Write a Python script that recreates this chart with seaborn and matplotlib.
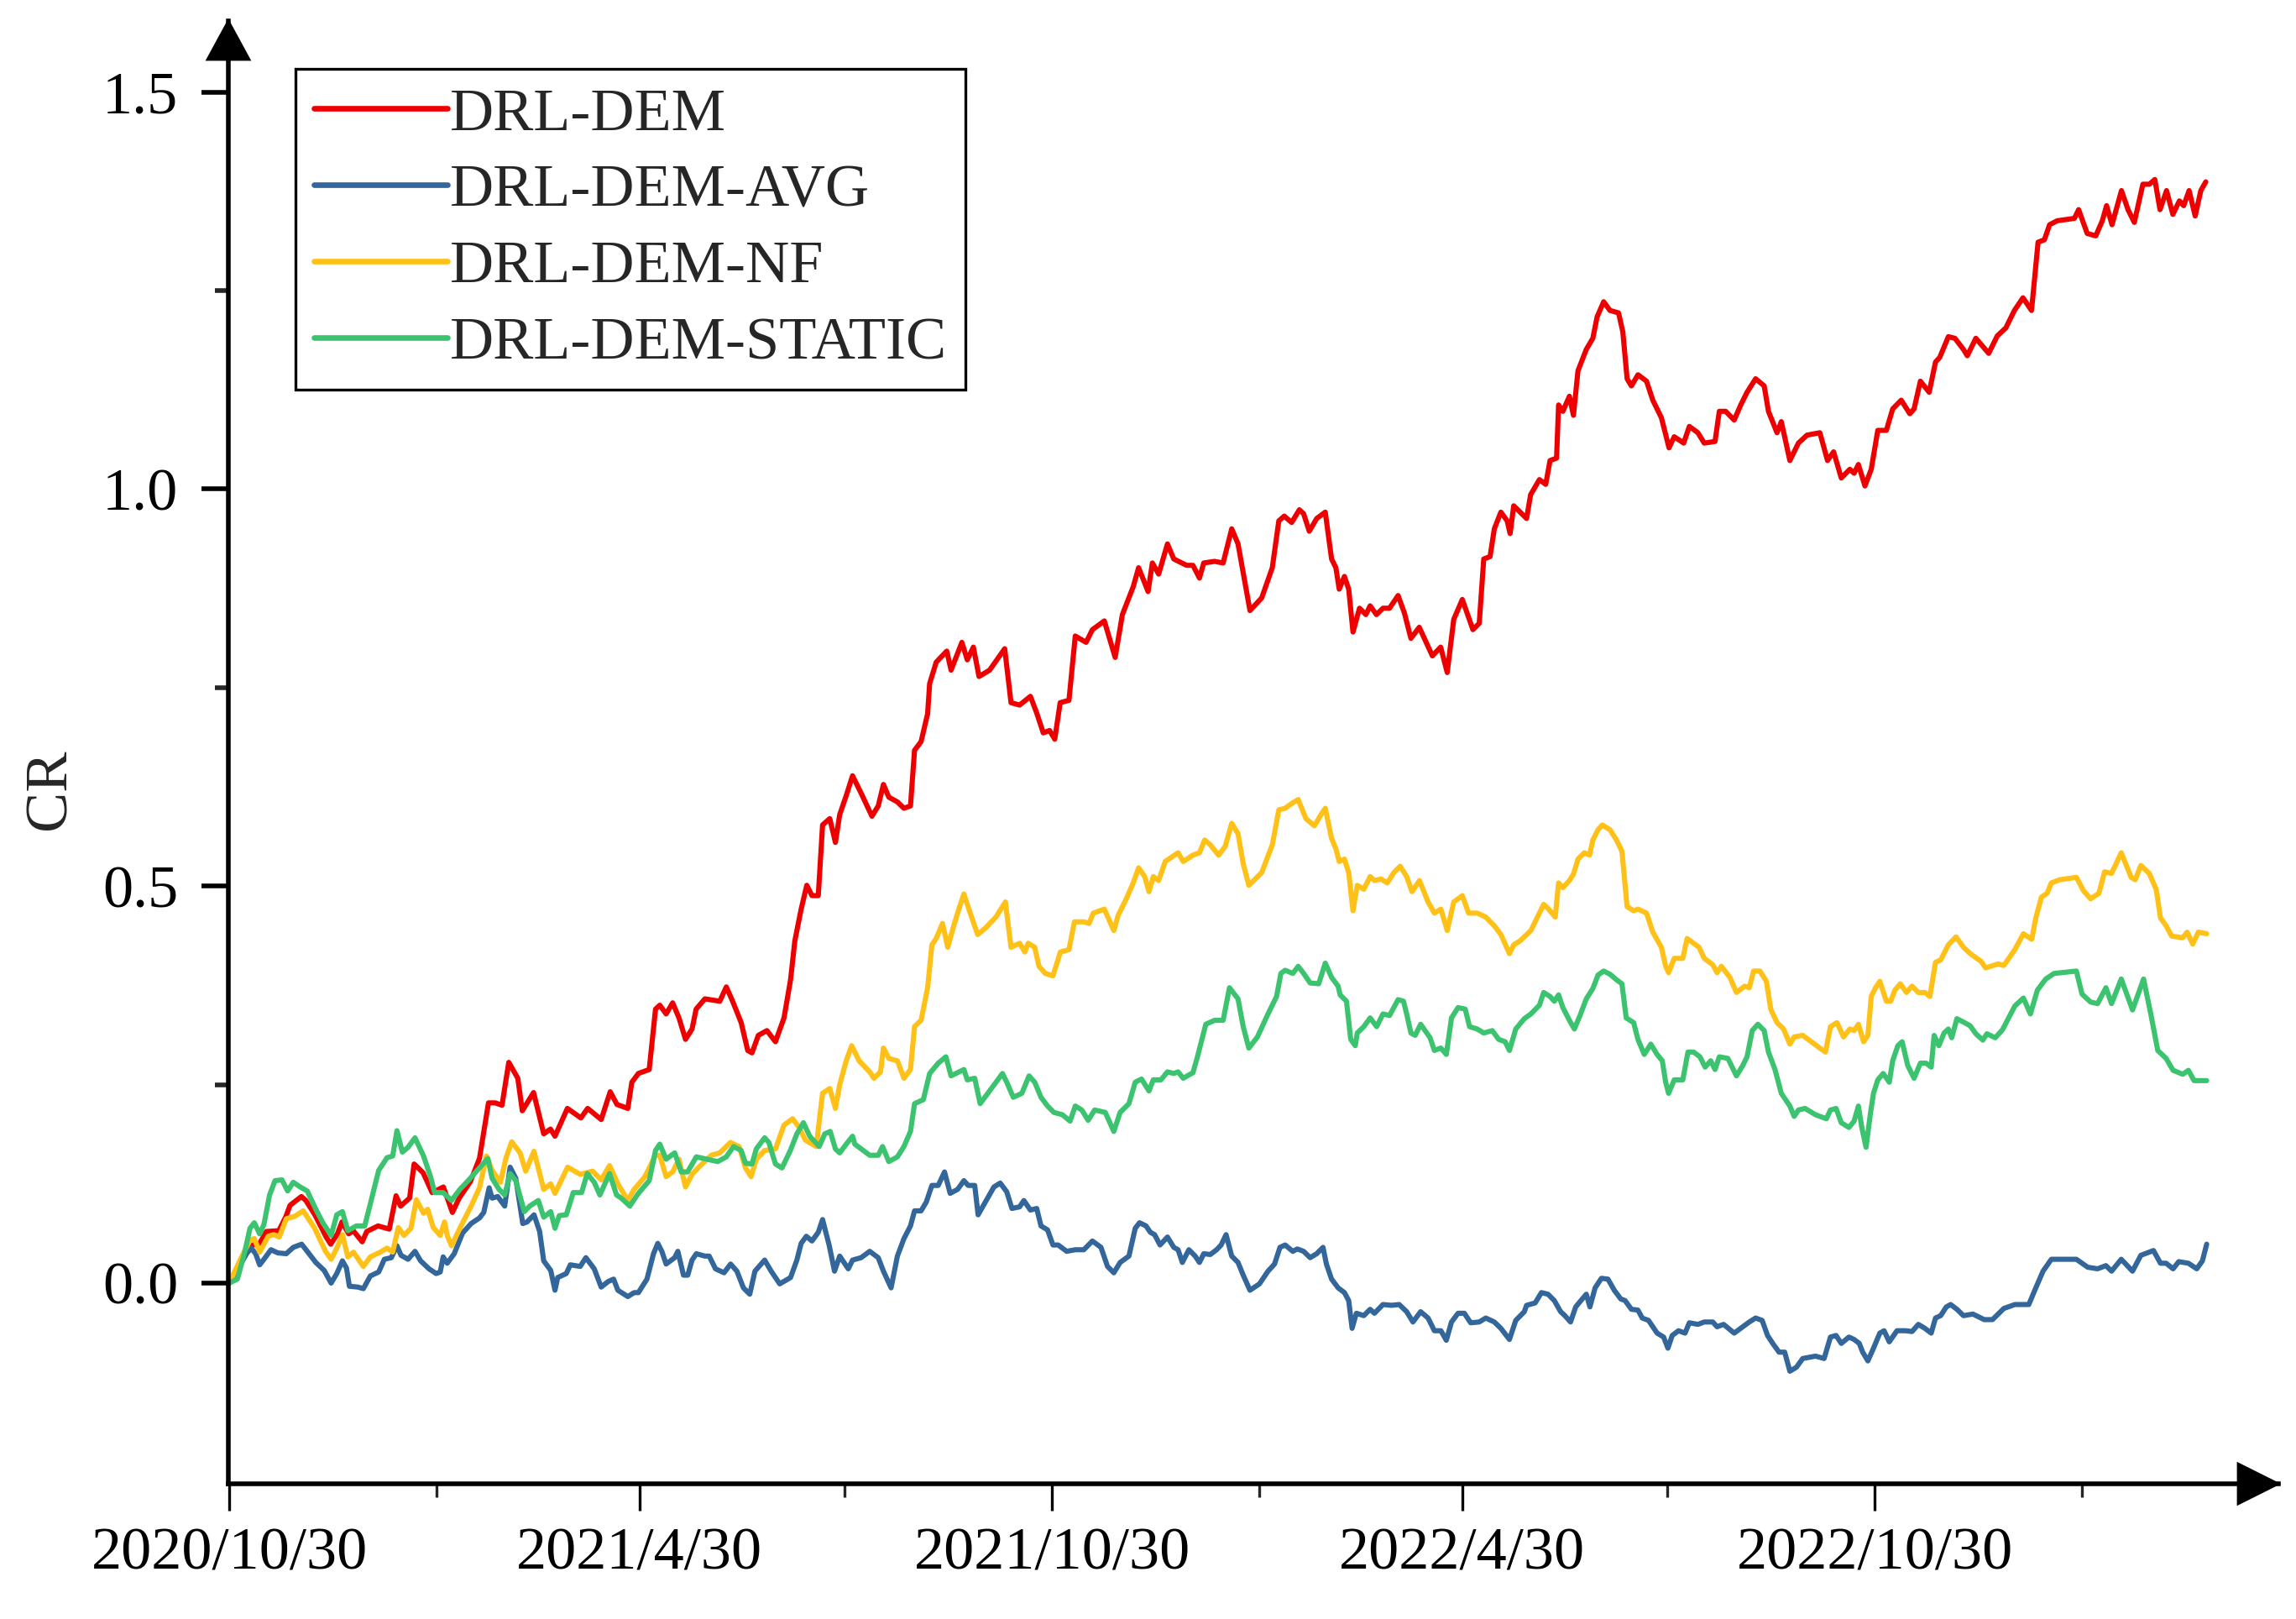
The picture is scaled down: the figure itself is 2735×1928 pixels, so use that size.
import matplotlib
matplotlib.use('Agg')
import matplotlib.pyplot as plt
import matplotlib.dates as mdates
from matplotlib.patches import Polygon
import pandas as pd
import seaborn as sns

# days are counted from the first trading day, 2020/10/30
START = pd.Timestamp('2020-10-30')

series_names = ['DRL-DEM', 'DRL-DEM-AVG', 'DRL-DEM-NF', 'DRL-DEM-STATIC']
series_colors = ['#EE0000', '#33669A', '#FFC117', '#3CC370']

red_days = [0, 5.5, 9, 13.5, 16.5, 22, 25, 27, 32, 34, 38, 43, 45, 48, 50, 53, 55, 59, 61, 66, 71, 74, 76, 80, 82, 86, 90, 95, 99, 102,
            107, 111, 115, 118, 121, 124, 128, 130, 135, 139.5, 142.5, 144.5, 150, 156, 159, 165, 169, 172, 176.8, 178.6, 181.5,
            186.3, 189.1, 191, 193.8, 196.7, 199.5, 202.4, 205.3, 207.1, 211, 217.6, 220.5, 223.3, 227.1, 230, 231.9, 234.7, 238.5,
            242.3, 246.1, 249, 250.9, 253.7, 256.2, 258.5, 261.3, 263.2, 266.4, 268.9, 270.8, 273.7, 276.5, 280.3, 285.1, 287.9,
            290.2, 292.6, 296.4, 299.3, 302.2, 304, 306.9, 309.8, 310.7, 313.6, 318.3, 320.2, 325, 327.4, 330.1, 332.6, 337.3, 344,
            346.8, 350.6, 355.4, 358.2, 361.1, 363.9, 366.2, 368.6, 372.5, 375.3, 380.1, 382.9, 388.2, 393, 396.2, 401, 403.4,
            407.6, 409.5, 412.3, 416.2, 419, 424.7, 427.5, 430.4, 432.3, 437.1, 440.9, 444.7, 447.5, 450.4, 452.8, 458, 462.7,
            465.6, 468, 471.3, 474.7, 476.6, 479.1, 482.4, 486.2, 489, 490.9, 492.4, 494.7, 496.6, 498.5, 501.4, 504.2, 506.1,
            508.9, 511.8, 514.7, 518.5, 521.3, 524.2, 527.9, 533.7, 537.4, 540.3, 543.2, 547, 551.7, 554.5, 556.5, 559.3, 561.2,
            564.1, 566.9, 568.2, 569.8, 575.5, 577.3, 581.2, 584, 585.9, 588.8, 589.7, 591.6, 594.5, 596.3, 598.3, 602, 604.9,
            606.8, 609.7, 612.5, 616.3, 618.2, 620.1, 622, 624.9, 628.7, 631.5, 635.3, 638.7, 641, 645.2, 647.7, 651.5, 654.3,
            659.1, 661, 663.8, 667.6, 670.5, 673.3, 677.1, 680.9, 682.8, 686.6, 688.5, 692.3, 696.1, 699.9, 705.6, 709, 711.7,
            715.1, 718.9, 720.8, 722.7, 725.6, 728.4, 731.3, 735.1, 737.9, 741.7, 745.5, 747.4, 750.2, 754.1, 756.9, 758.8, 762.6,
            765.5, 769.3, 771, 774.8, 780.5, 784.3, 788.1, 791.9, 795.7, 799.5, 802.4, 805.2, 807.5, 810.9, 818.5, 820.4, 824.2,
            828, 830.9, 832.8, 835.2, 839.4, 842.3, 845.1, 848.9, 851.8, 854.2, 856.5, 859.4, 862.2, 865.1, 867, 869.4, 872.1,
            874.6, 876.8]
red_cr = [0, 0.03, 0.047, 0.05, 0.065, 0.066, 0.083, 0.098, 0.109, 0.104, 0.086, 0.058, 0.049, 0.062, 0.077, 0.062, 0.066, 0.052,
          0.065, 0.072, 0.068, 0.11, 0.097, 0.107, 0.15, 0.139, 0.114, 0.121, 0.089, 0.107, 0.128, 0.157, 0.227, 0.227, 0.224,
          0.278, 0.258, 0.217, 0.24, 0.188, 0.194, 0.185, 0.22, 0.208, 0.22, 0.206, 0.241, 0.225, 0.22, 0.253, 0.264, 0.269, 0.345,
          0.35, 0.339, 0.353, 0.334, 0.307, 0.32, 0.345, 0.358, 0.355, 0.373, 0.355, 0.328, 0.293, 0.29, 0.312, 0.318, 0.304, 0.334,
          0.382, 0.431, 0.471, 0.501, 0.488, 0.488, 0.577, 0.585, 0.555, 0.59, 0.614, 0.639, 0.617, 0.588, 0.601, 0.628, 0.612,
          0.606, 0.598, 0.601, 0.671, 0.682, 0.717, 0.755, 0.782, 0.796, 0.772, 0.807, 0.785, 0.801, 0.764, 0.772, 0.799, 0.731,
          0.728, 0.739, 0.718, 0.693, 0.696, 0.685, 0.731, 0.734, 0.815, 0.807, 0.823, 0.834, 0.788, 0.842, 0.877, 0.901, 0.871,
          0.907, 0.893, 0.931, 0.912, 0.904, 0.904, 0.888, 0.907, 0.909, 0.907, 0.95, 0.931, 0.885, 0.847, 0.863, 0.901, 0.96,
          0.966, 0.958, 0.974, 0.969, 0.947, 0.963, 0.971, 0.912, 0.901, 0.874, 0.89, 0.874, 0.82, 0.85, 0.842, 0.853, 0.842, 0.85,
          0.85, 0.866, 0.844, 0.812, 0.826, 0.79, 0.801, 0.769, 0.836, 0.861, 0.823, 0.831, 0.912, 0.915, 0.95, 0.971, 0.96, 0.944,
          0.979, 0.963, 0.993, 1.012, 1.006, 1.036, 1.039, 1.106, 1.098, 1.117, 1.093, 1.149, 1.176, 1.19, 1.217, 1.236, 1.225,
          1.222, 1.198, 1.139, 1.13, 1.144, 1.136, 1.112, 1.09, 1.052, 1.066, 1.058, 1.079, 1.071, 1.058, 1.06, 1.098, 1.098,
          1.087, 1.106, 1.122, 1.139, 1.13, 1.098, 1.071, 1.085, 1.036, 1.058, 1.068, 1.071, 1.036, 1.047, 1.014, 1.025, 1.02,
          1.031, 1.004, 1.025, 1.074, 1.074, 1.101, 1.112, 1.095, 1.101, 1.136, 1.122, 1.16, 1.166, 1.192, 1.19, 1.176, 1.168,
          1.19, 1.171, 1.193, 1.203, 1.225, 1.241, 1.225, 1.311, 1.314, 1.333, 1.338, 1.341, 1.352, 1.322, 1.319, 1.338, 1.357,
          1.333, 1.376, 1.352, 1.336, 1.384, 1.384, 1.39, 1.352, 1.376, 1.346, 1.363, 1.357, 1.376, 1.344, 1.376, 1.387]

blue_days = [0, 5.5, 7.9, 9.8, 11.7, 13.5, 15.4, 18.5, 21.6, 25.3, 28.4, 32.1, 34.6, 38.4, 42.1, 45.2, 47.7, 50.2, 52, 53.3, 57,
             59.5, 62.6, 66.3, 68.8, 71.9, 74.4, 76.2, 79.3, 82.4, 84.9, 88.6, 91.8, 93.6, 94.9, 96.7, 99.8, 103.5, 107.3, 111,
             112.9, 115.3, 116.6, 119.1, 122.2, 124.6, 127.1, 130.2, 132.1, 135.2, 137.7, 139.5, 142.6, 144.5, 145.7, 149.5, 151.3,
             155.7, 158.2, 161.9, 165, 168.1, 170.5, 172.4, 176.8, 179.6, 181.5, 185.3, 188.2, 190.1, 191.9, 193.8, 197.6, 199,
             201.5, 203.4, 205.3, 207.2, 211, 212.9, 215.7, 219.5, 222.4, 225.2, 228.1, 230.9, 233.2, 237.5, 240.4, 244.2, 249,
             251.8, 253.7, 256, 258.5, 261.3, 263.2, 266.1, 268.5, 270.8, 274.6, 276.5, 280.3, 284.1, 287.9, 290.2, 293.6, 296.4,
             299.3, 302.2, 304, 306.9, 309.2, 311.7, 314.5, 317.3, 319.8, 323.1, 325.9, 327.8, 330.7, 332.2, 335.4, 339.2, 342,
             344.9, 347.2, 350.6, 352.5, 355.4, 358.2, 360.1, 363, 365.4, 367.7, 371.5, 375.3, 379.1, 382.9, 386.7, 389.6, 392.4,
             395.2, 399.1, 401.9, 403.8, 406.7, 408.6, 410.5, 412.9, 416.2, 419, 420.9, 422.8, 425.7, 428.5, 430.4, 432.3, 435.2,
             438, 440, 442.2, 444.7, 447.5, 449.8, 452.8, 457, 460.8, 463.7, 466.1, 468.4, 471.8, 473.8, 476.6, 479.5, 482.4,
             485.2, 486.7, 489, 491.9, 494.7, 496.6, 498.1, 500, 503.3, 506.1, 508, 511.8, 515.6, 519, 522.3, 525.1, 528.5, 531.8,
             534.6, 537.5, 539.9, 542.2, 545.1, 547.9, 550.7, 554.5, 557.4, 561.2, 564.1, 567.9, 570.7, 574.5, 575.5, 579.3, 582.1,
             585, 587.8, 590.6, 592.5, 595, 597.3, 600.2, 602, 603.6, 605.9, 608.7, 611.6, 614.4, 617.3, 619.2, 622, 624.9, 626.8,
             629.6, 633.4, 636.3, 638.2, 640.1, 642.9, 645.8, 647.7, 651.5, 654.3, 658.1, 660, 662.9, 667.6, 671.4, 674.3, 677.1,
             680, 682.4, 684.7, 687.5, 690, 692.3, 695.2, 698, 703.7, 707.5, 710.3, 712.8, 715.1, 718.5, 720.8, 723.1, 724.6,
             726.9, 729.4, 732.2, 734.1, 736.4, 739.8, 743.6, 746.5, 749.3, 752.2, 755, 756.9, 759.2, 761.7, 763.6, 766.4, 769.3,
             773.5, 778.5, 782.2, 787.2, 792.1, 798.3, 800.8, 804.6, 808.3, 819.4, 824.4, 828.8, 832.5, 835, 839.3, 844.3, 848,
             853.6, 856.7, 859.2, 862.3, 864.8, 869.1, 872.8, 875.3, 877.2]
blue_cr = [0, 0.026, 0.038, 0.044, 0.037, 0.023, 0.03, 0.042, 0.038, 0.037, 0.045, 0.049, 0.04, 0.026, 0.016, 0, 0.012, 0.028,
           0.019, -0.004, -0.005, -0.007, 0.009, 0.014, 0.03, 0.032, 0.047, 0.035, 0.03, 0.04, 0.028, 0.018, 0.012, 0.014, 0.033,
           0.025, 0.037, 0.063, 0.075, 0.082, 0.089, 0.12, 0.107, 0.109, 0.097, 0.146, 0.132, 0.075, 0.077, 0.086, 0.065, 0.028,
           0.016, -0.009, 0.007, 0.012, 0.023, 0.021, 0.032, 0.018, -0.005, 0.002, 0.005, -0.009, -0.017, -0.012, -0.012, 0.005,
           0.037, 0.05, 0.04, 0.024, 0.032, 0.04, 0.01, 0.01, 0.029, 0.037, 0.034, 0.034, 0.018, 0.013, 0.024, 0.015, -0.006,
           -0.014, 0.015, 0.029, 0.015, -0.001, 0.007, 0.029, 0.05, 0.059, 0.053, 0.064, 0.08, 0.048, 0.015, 0.034, 0.018, 0.029,
           0.032, 0.04, 0.032, 0.015, -0.006, 0.034, 0.056, 0.072, 0.091, 0.091, 0.102, 0.123, 0.123, 0.14, 0.113, 0.118, 0.129,
           0.123, 0.123, 0.086, 0.102, 0.121, 0.126, 0.115, 0.094, 0.096, 0.104, 0.092, 0.094, 0.072, 0.067, 0.048, 0.048, 0.04,
           0.042, 0.042, 0.053, 0.045, 0.021, 0.013, 0.026, 0.034, 0.069, 0.076, 0.072, 0.064, 0.061, 0.048, 0.058, 0.045, 0.042,
           0.026, 0.042, 0.034, 0.026, 0.037, 0.036, 0.042, 0.048, 0.061, 0.034, 0.026, 0.01, -0.009, -0.001, 0.015, 0.024, 0.045,
           0.048, 0.04, 0.043, 0.04, 0.032, 0.037, 0.045, 0.024, 0.005, -0.006, -0.012, -0.022, -0.057, -0.038, -0.041, -0.033,
           -0.038, -0.027, -0.028, -0.027, -0.036, -0.049, -0.036, -0.044, -0.06, -0.06, -0.072, -0.049, -0.038, -0.038, -0.05,
           -0.049, -0.044, -0.049, -0.057, -0.071, -0.047, -0.036, -0.028, -0.025, -0.012, -0.014, -0.022, -0.036, -0.041, -0.049,
           -0.03, -0.02, -0.014, -0.03, -0.006, 0.006, 0.005, -0.009, -0.02, -0.022, -0.033, -0.034, -0.044, -0.047, -0.063,
           -0.068, -0.082, -0.066, -0.06, -0.063, -0.05, -0.052, -0.049, -0.049, -0.055, -0.052, -0.063, -0.055, -0.049, -0.044,
           -0.047, -0.066, -0.076, -0.087, -0.087, -0.111, -0.106, -0.095, -0.092, -0.095, -0.068, -0.066, -0.076, -0.068, -0.071,
           -0.076, -0.087, -0.098, -0.082, -0.063, -0.06, -0.074, -0.06, -0.06, -0.061, -0.052, -0.057, -0.063, -0.044, -0.041,
           -0.03, -0.027, -0.033, -0.041, -0.039, -0.046, -0.046, -0.032, -0.027, -0.027, -0.01, 0.015, 0.03, 0.03, 0.02, 0.018,
           0.022, 0.015, 0.03, 0.015, 0.035, 0.041, 0.025, 0.025, 0.018, 0.027, 0.025, 0.018, 0.028, 0.049]

yellow_days = [0, 5.5, 9.2, 11.1, 13.5, 17.3, 19.8, 22.2, 25.3, 29, 32.8, 37.7, 42.7, 45.2, 47.7, 50.2, 52.6, 55.1, 59.5, 62.6, 67,
               70, 72.5, 75, 77.5, 80.6, 83, 86.2, 88, 90.5, 93.6, 95.5, 96.7, 98.6, 102.3, 107.3, 111, 114.1, 116.6, 120.3,
               122.8, 125.3, 129, 131.5, 135.2, 139.5, 142.6, 144.5, 150.1, 155.7, 161.2, 165, 168.7, 172.4, 176.8, 179.6, 184.4,
               189.1, 191, 193.8, 196.7, 199.5, 202.4, 205.3, 209, 213.8, 217.6, 222.3, 226.2, 229, 231.5, 233.8, 237.5, 242.3,
               246.1, 249.9, 252.8, 255.6, 260.4, 263.2, 266.4, 268.9, 270.8, 273.7, 276.1, 279.4, 284.1, 286, 288.9, 290.2,
               292.6, 296.4, 299.3, 302.2, 304, 306.9, 309.8, 311.7, 313.6, 316.4, 318.7, 321.7, 324, 325.9, 328.7, 332, 335.4,
               340.1, 344.3, 346.8, 350.6, 352.9, 354.4, 357.3, 359.2, 362, 365.4, 368.7, 372.5, 374.9, 379.1, 381.4, 383.3,
               388.2, 392.4, 394.3, 398.1, 401, 403.4, 406.1, 408, 409.9, 412.3, 415.2, 420.9, 423.2, 427.5, 430.4, 432.7, 435.2,
               438.9, 441.8, 444.7, 447.5, 449.8, 452.3, 458, 462.7, 465.6, 468.4, 471.3, 474.2, 477.6, 481.4, 484.3, 486.2, 489,
               490.9, 492.4, 494.7, 496.6, 498.5, 500.4, 503.3, 506.1, 508, 510.9, 513.7, 516.6, 519.4, 522.3, 524.7, 528, 531.8,
               534.6, 537.5, 540.3, 543.2, 547, 549.8, 553.6, 557.4, 561.2, 564.1, 567.9, 569.8, 572.6, 577.4, 581.2, 583.1,
               585.3, 588.2, 589.7, 591.6, 594.5, 596.3, 598.3, 601.1, 603.4, 604.9, 607.2, 609.1, 612.5, 615.4, 617.8, 620.1,
               623, 624.9, 628.7, 631.5, 635.3, 637.2, 638.5, 641, 644.8, 646.7, 649.6, 652, 654.3, 658.1, 660, 661.9, 665.7,
               668.6, 672.3, 674.3, 676.2, 679, 681.9, 683.8, 686.6, 689.5, 692.3, 694.2, 698, 701.8, 705.6, 708.1, 710.3, 713.2,
               716.1, 718.9, 720.8, 722.7, 725, 726.9, 728.4, 730.3, 732.2, 735.1, 737, 738.9, 741.3, 744, 746.5, 749.3, 752.2,
               754.4, 756.9, 759.2, 762.6, 766, 769.3, 772.3, 777.2, 779.1, 784.7, 787.2, 792.1, 795.9, 799.6, 801.4, 803.9,
               806.4, 808.3, 812, 819.4, 822.6, 825.7, 829.4, 831.9, 835, 839.3, 843.7, 845.5, 848, 851.7, 854.8, 856.7, 859.2,
               861.7, 866.6, 868.5, 871, 873.5, 877.2]
yellow_cr = [0, 0.033, 0.054, 0.056, 0.039, 0.059, 0.061, 0.058, 0.081, 0.084, 0.091, 0.07, 0.04, 0.03, 0.044, 0.061, 0.033, 0.039,
             0.021, 0.033, 0.039, 0.044, 0.039, 0.07, 0.06, 0.069, 0.105, 0.088, 0.093, 0.07, 0.06, 0.077, 0.06, 0.047, 0.069,
             0.097, 0.12, 0.16, 0.142, 0.127, 0.158, 0.178, 0.164, 0.141, 0.166, 0.118, 0.125, 0.113, 0.146, 0.137, 0.141, 0.13,
             0.148, 0.125, 0.104, 0.118, 0.134, 0.161, 0.161, 0.134, 0.14, 0.156, 0.121, 0.137, 0.148, 0.161, 0.164, 0.177, 0.172,
             0.145, 0.134, 0.156, 0.167, 0.169, 0.199, 0.207, 0.196, 0.18, 0.172, 0.239, 0.245, 0.22, 0.25, 0.28, 0.299, 0.28,
             0.266, 0.258, 0.266, 0.296, 0.283, 0.28, 0.258, 0.269, 0.323, 0.331, 0.372, 0.426, 0.434, 0.453, 0.423, 0.453, 0.474,
             0.49, 0.466, 0.439, 0.447, 0.461, 0.48, 0.423, 0.428, 0.417, 0.428, 0.423, 0.399, 0.39, 0.387, 0.417, 0.42, 0.455,
             0.455, 0.453, 0.466, 0.471, 0.444, 0.463, 0.485, 0.504, 0.523, 0.512, 0.493, 0.512, 0.507, 0.531, 0.542, 0.531, 0.539,
             0.542, 0.558, 0.552, 0.539, 0.55, 0.579, 0.566, 0.528, 0.501, 0.517, 0.552, 0.596, 0.598, 0.604, 0.609, 0.585, 0.576,
             0.59, 0.598, 0.56, 0.547, 0.531, 0.534, 0.517, 0.469, 0.501, 0.496, 0.512, 0.507, 0.509, 0.504, 0.517, 0.525, 0.512,
             0.493, 0.507, 0.48, 0.466, 0.471, 0.444, 0.48, 0.488, 0.466, 0.466, 0.461, 0.45, 0.439, 0.415, 0.426, 0.431, 0.444,
             0.466, 0.477, 0.471, 0.461, 0.504, 0.498, 0.507, 0.515, 0.534, 0.542, 0.539, 0.558, 0.571, 0.577, 0.571, 0.558, 0.544,
             0.474, 0.469, 0.471, 0.466, 0.442, 0.423, 0.399, 0.391, 0.409, 0.409, 0.434, 0.428, 0.423, 0.409, 0.401, 0.391, 0.399,
             0.385, 0.366, 0.374, 0.372, 0.393, 0.393, 0.38, 0.345, 0.328, 0.32, 0.301, 0.31, 0.312, 0.304, 0.296, 0.291, 0.323,
             0.328, 0.31, 0.32, 0.318, 0.326, 0.304, 0.312, 0.361, 0.372, 0.38, 0.355, 0.355, 0.369, 0.377, 0.366, 0.374, 0.366,
             0.366, 0.361, 0.404, 0.407, 0.426, 0.436, 0.423, 0.415, 0.405, 0.397, 0.402, 0.4, 0.42, 0.44, 0.433, 0.46, 0.486,
             0.491, 0.504, 0.508, 0.511, 0.494, 0.484, 0.491, 0.518, 0.516, 0.542, 0.511, 0.508, 0.526, 0.516, 0.496, 0.46, 0.45,
             0.437, 0.435, 0.442, 0.427, 0.442, 0.44]

green_days = [0, 3.6, 6.7, 9.2, 11.1, 13.5, 15.4, 17.9, 20.3, 23.4, 25.9, 28.4, 31.5, 34.6, 38.4, 41.5, 45.2, 47.7, 50.2, 52.6,
              56.4, 60.1, 62.6, 66.3, 70, 72.5, 74.4, 76.8, 79.3, 82.4, 86.2, 89.3, 91.1, 94.9, 98.6, 102.3, 106, 109.7, 114.7,
              116.6, 119.7, 122.2, 124.6, 127.1, 130.9, 133.3, 137.1, 139.5, 142.6, 144.5, 146.4, 149.5, 152.6, 156.3, 158.8,
              161.9, 164.4, 168.7, 171.8, 173.9, 177.7, 181.5, 186.3, 189.1, 191, 193.8, 197.6, 200.5, 203.3, 207.2, 211.9, 216.7,
              220.5, 223.7, 227.1, 229, 231.9, 233.8, 237.5, 239.4, 242.3, 245.2, 248.9, 251.8, 254.7, 257.5, 261.7, 264.2, 266.6,
              268.9, 270.8, 273.7, 276.5, 277.5, 280.3, 284.1, 287.9, 289.8, 292.6, 296.4, 299.3, 302.2, 304, 307.9, 310.7, 314.5,
              317.9, 320.2, 325.9, 327.4, 330.7, 333.1, 337.3, 343, 344.9, 347.8, 351.6, 354.8, 357.3, 360.1, 363, 365.8, 369.6,
              373, 375.3, 378.2, 381, 383.9, 388.6, 392.4, 395.2, 399.1, 401.9, 404.7, 408, 409.9, 413.3, 416.2, 419, 420.9, 423.2,
              427.5, 429.5, 433.2, 437.1, 440.9, 443.7, 447.5, 449.8, 452.3, 456.1, 460.8, 464.6, 466.5, 468.4, 471.8, 474.2,
              476.6, 479.5, 483.3, 486.2, 489, 491.9, 492.8, 495.6, 497.5, 499.5, 500.4, 503.3, 506.1, 509, 511.8, 514.7, 518.5,
              520.9, 522.3, 524.2, 526.1, 528.5, 532.7, 534.6, 537.5, 539.9, 542.2, 545.1, 548.3, 550.2, 553.6, 556.5, 560.3,
              563.1, 566, 567.9, 570.7, 574.5, 577.4, 581.2, 583.1, 585.9, 587.8, 589.7, 591.6, 594.5, 596.7, 599.2, 602, 604.9,
              607.2, 609.7, 612.5, 615.4, 617.8, 619.7, 623, 624.9, 627.7, 630.6, 633.4, 635.7, 637.2, 638.5, 641, 644.8, 647.1,
              649.6, 652.4, 654.7, 657.2, 659.1, 661, 664.8, 668.6, 671.4, 673.3, 675.6, 678.1, 680.9, 682.8, 685.7, 688.5, 692.3,
              694.2, 696.1, 699, 703.7, 708.5, 710.3, 712.8, 715.1, 718.5, 720.8, 722.7, 724.2, 726.1, 728, 729.4, 731.3, 733.7,
              736.4, 737.9, 740.2, 742.1, 744.6, 747.4, 750.2, 752.7, 755, 756.3, 758.4, 760.7, 762.6, 764.1, 766.4, 769.8, 772.3,
              774.8, 777.9, 779.7, 783.4, 786.6, 792.1, 795.9, 799, 802.1, 805.8, 809.5, 819.4, 821.9, 825.7, 828.8, 832.5, 835,
              839.3, 844.3, 849.2, 852.4, 855.5, 859.2, 862.3, 866.6, 869.1, 871.6, 877.2]
green_cr = [0, 0.005, 0.037, 0.069, 0.076, 0.062, 0.074, 0.111, 0.129, 0.13, 0.116, 0.127, 0.121, 0.116, 0.093, 0.076, 0.06, 0.086,
            0.09, 0.066, 0.072, 0.072, 0.1, 0.142, 0.158, 0.16, 0.192, 0.165, 0.171, 0.183, 0.16, 0.134, 0.114, 0.114, 0.104,
            0.118, 0.129, 0.141, 0.157, 0.132, 0.118, 0.111, 0.138, 0.129, 0.09, 0.097, 0.104, 0.083, 0.09, 0.069, 0.085, 0.086,
            0.114, 0.114, 0.138, 0.127, 0.111, 0.138, 0.111, 0.107, 0.097, 0.113, 0.129, 0.167, 0.175, 0.156, 0.164, 0.14, 0.14,
            0.159, 0.156, 0.153, 0.159, 0.172, 0.167, 0.151, 0.15, 0.169, 0.183, 0.177, 0.15, 0.145, 0.167, 0.188, 0.202, 0.185,
            0.172, 0.188, 0.191, 0.169, 0.164, 0.175, 0.185, 0.175, 0.169, 0.161, 0.161, 0.172, 0.153, 0.159, 0.172, 0.191, 0.226,
            0.231, 0.264, 0.277, 0.285, 0.261, 0.269, 0.256, 0.258, 0.226, 0.242, 0.264, 0.253, 0.234, 0.239, 0.261, 0.253, 0.234,
            0.223, 0.215, 0.212, 0.204, 0.223, 0.218, 0.205, 0.218, 0.215, 0.191, 0.215, 0.226, 0.253, 0.257, 0.242, 0.256, 0.256,
            0.266, 0.264, 0.266, 0.258, 0.265, 0.285, 0.326, 0.331, 0.331, 0.372, 0.358, 0.323, 0.296, 0.31, 0.339, 0.361, 0.39,
            0.394, 0.39, 0.399, 0.39, 0.378, 0.377, 0.403, 0.385, 0.374, 0.363, 0.355, 0.307, 0.299, 0.315, 0.323, 0.334, 0.323,
            0.339, 0.337, 0.357, 0.355, 0.339, 0.315, 0.312, 0.326, 0.309, 0.293, 0.296, 0.288, 0.334, 0.347, 0.345, 0.323, 0.32,
            0.315, 0.318, 0.307, 0.304, 0.293, 0.32, 0.333, 0.339, 0.35, 0.366, 0.361, 0.355, 0.363, 0.347, 0.331, 0.32, 0.337,
            0.358, 0.371, 0.388, 0.393, 0.389, 0.382, 0.377, 0.334, 0.328, 0.307, 0.288, 0.301, 0.288, 0.28, 0.253, 0.239, 0.256,
            0.256, 0.291, 0.291, 0.285, 0.272, 0.28, 0.269, 0.285, 0.283, 0.261, 0.274, 0.285, 0.318, 0.326, 0.318, 0.291, 0.269,
            0.239, 0.223, 0.21, 0.218, 0.22, 0.212, 0.207, 0.218, 0.22, 0.202, 0.196, 0.204, 0.223, 0.196, 0.171, 0.213, 0.239,
            0.256, 0.264, 0.253, 0.28, 0.299, 0.304, 0.274, 0.258, 0.277, 0.277, 0.272, 0.312, 0.299, 0.315, 0.32, 0.309, 0.333,
            0.328, 0.324, 0.314, 0.306, 0.314, 0.309, 0.319, 0.349, 0.359, 0.339, 0.369, 0.383, 0.39, 0.393, 0.364, 0.354, 0.352,
            0.372, 0.352, 0.383, 0.344, 0.383, 0.339, 0.293, 0.283, 0.268, 0.263, 0.268, 0.255, 0.255]

major_dates = ['2020-10-30', '2021-04-30', '2021-10-30', '2022-04-30', '2022-10-30']
major_labels = ['2020/10/30', '2021/4/30', '2021/10/30', '2022/4/30', '2022/10/30']
minor_dates = ['2021-01-30', '2021-07-30', '2022-01-30', '2022-07-30', '2023-01-30']
y_major = [0.0, 0.5, 1.0, 1.5]
y_minor = [0.25, 0.75, 1.25]

all_days = [red_days, blue_days, yellow_days, green_days]
all_cr = [red_cr, blue_cr, yellow_cr, green_cr]
frames = []
for name, d, v in zip(series_names, all_days, all_cr):
    frames.append(pd.DataFrame({'date': START + pd.to_timedelta(d, unit='D'), 'CR': v, 'model': name}))
df = pd.concat(frames, ignore_index=True)

sns.set_style('ticks')
plt.rcParams['font.family'] = ['Liberation Serif', 'DejaVu Serif']
plt.rcParams['axes.edgecolor'] = 'black'

W, H = 2735, 1928
fig = plt.figure(figsize=(W / 200, H / 200), dpi=200)
ax = fig.add_axes([272 / W, 161 / H, 2442 / W, 1742 / H])

sns.lineplot(data=df, x='date', y='CR', hue='model', hue_order=series_names,
             palette=dict(zip(series_names, series_colors)), estimator=None,
             sort=False, linewidth=2.2, ax=ax)

ax.set_xlim(START - pd.Timedelta(days=0.4), START + pd.Timedelta(days=909))
ax.set_ylim(-0.2528, 1.5896)

ax.set_xticks(mdates.date2num(pd.to_datetime(major_dates)))
ax.set_xticklabels(major_labels)
ax.set_xticks(mdates.date2num(pd.to_datetime(minor_dates)), minor=True)
ax.set_yticks(y_major)
ax.set_yticklabels([f'{v:.1f}' for v in y_major])
ax.set_yticks(y_minor, minor=True)

ax.tick_params(axis='x', which='major', direction='out', length=11.5, width=1.2, pad=7, labelsize=26, colors='black')
ax.tick_params(axis='x', which='minor', direction='out', length=5.8, width=1.2)
ax.tick_params(axis='y', which='major', direction='out', length=11.5, width=2, pad=10, labelsize=26, colors='black')
ax.tick_params(axis='y', which='minor', direction='out', length=5.8, width=2)

ax.spines['top'].set_visible(False)
ax.spines['right'].set_visible(False)
for side in ['left', 'bottom']:
    ax.spines[side].set_linewidth(2.0)
    ax.spines[side].set_color('black')

# arrow heads at the ends of both axes
up = Polygon([(-25 / 2442, 1 - 46 / 1742), (25 / 2442, 1 - 46 / 1742), (0, 1)], closed=True,
             transform=ax.transAxes, clip_on=False, color='black', zorder=6)
right = Polygon([(1 - 48 / 2442, -24 / 1742), (1 - 48 / 2442, 24 / 1742), (1, 0)], closed=True,
                transform=ax.transAxes, clip_on=False, color='black', zorder=6)
ax.add_patch(up)
ax.add_patch(right)

ax.set_xlabel('')
ax.set_ylabel('CR', fontsize=26)
ax.yaxis.set_label_coords(-0.0735, 0.475)

handles, labels = ax.get_legend_handles_labels()
leg = ax.legend(handles, labels, loc='upper left', bbox_to_anchor=(0.0328, 0.967), borderaxespad=0,
                frameon=True, fancybox=False, edgecolor='black', framealpha=1, fontsize=26,
                handlelength=2.2, handletextpad=0.05, labelspacing=0.35, borderpad=0.3)
leg.get_frame().set_linewidth(1.2)
for line in leg.get_lines():
    line.set_linewidth(2.4)

fig.savefig('out.png', dpi=200)
plt.close(fig)
